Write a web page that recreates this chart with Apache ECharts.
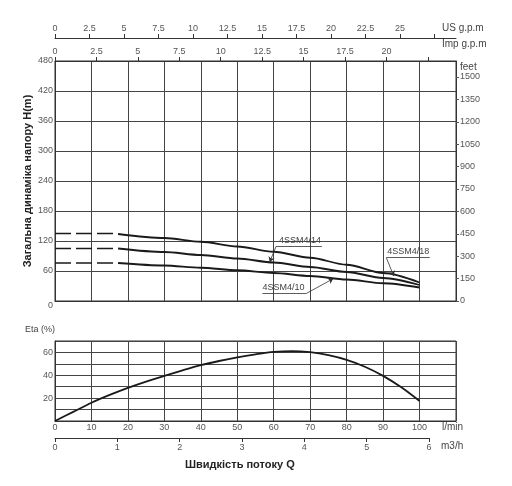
<!DOCTYPE html>
<html><head><meta charset="utf-8">
<script src="https://cdn.jsdelivr.net/npm/echarts@6/dist/echarts.min.js"></script>
<style>html,body{margin:0;padding:0;background:#fff}#c{width:512px;height:486px}</style>
</head><body><div id="c"></div>
<script>
// ---- data ----
const flowLmin = [17.3, 30, 40, 50, 60, 70, 80, 90, 100];
const head18 = [134, 126, 118.5, 109, 98.5, 86.5, 72.5, 56, 37];
const head14 = [105, 98, 92, 85, 77, 68, 58, 46, 32];
const head10 = [76, 71, 66.5, 61.5, 56, 50, 43, 35.5, 27];
const dashFlow = [0, 17.3];
const dash18 = [135, 135];
const dash14 = [105, 105];
const dash10 = [76, 76];
const etaFlow = [0, 5, 10, 15, 20, 25, 30, 35, 40, 45, 50, 55, 60, 65, 70, 75, 80, 85, 90, 95, 100];
const etaVals = [0, 8, 16, 22.8, 29, 34.5, 39.5, 44.3, 48.8, 52.5, 55.7, 58.3, 60.4, 61.2, 60.2, 57.6, 53.5, 47.5, 39.5, 29.5, 17.5];
const modelNames = ['4SSM4/18', '4SSM4/14', '4SSM4/10'];
// tick labels
const impTicks = [0, 2.5, 5, 7.5, 10, 12.5, 15, 17.5, 20, 22.5];
const impLabels = [0, 2.5, 5, 7.5, 10, 12.5, 15, 17.5, 20];
const usTicks = [0, 2.5, 5, 7.5, 10, 12.5, 15, 17.5, 20, 22.5, 25, 27.5];
const usLabels = [0, 2.5, 5, 7.5, 10, 12.5, 15, 17.5, 20, 22.5, 25];
const feetTicks = [0, 150, 300, 450, 600, 750, 900, 1050, 1200, 1350, 1500];
const etaLabels = [20, 40, 60];
const lminLabels = [0, 10, 20, 30, 40, 50, 60, 70, 80, 90, 100];

// ---- annotation layout (data coordinates) ----
const annot = [
  {tip: [92.9, 50], elbow: [90.9, 86.6], end: [102.8, 86.6], text: [96.9, 86.6]},
  {tip: [58.9, 78], elbow: [60.6, 108.6], end: [73.2, 108.6], text: [67.2, 108.6]},
  {tip: [76.3, 44.5], elbow: [69, 15.4], end: [56.9, 15.4], text: [62.7, 15.4]}
];

const FONT = 'Liberation Sans';
const lab = {color: '#555', fontSize: 9, fontFamily: FONT};
const unit = {color: '#444', fontSize: 10, fontFamily: FONT};
const gridLine = {lineStyle: {color: '#444', width: 1}};
const axLine = {onZero: false, lineStyle: {color: '#333', width: 1}};
const pairs = (xs, ys) => xs.map((x, i) => [x, ys[i]]);
const curveStyle = {color: '#1a1a1a', width: 1.8};
const dashStyle = {color: '#1a1a1a', width: 1.6, type: [16, 5]};
const plain = v => String(v);

const markLineData = [];
annot.forEach(a => {
  markLineData.push([{coord: a.tip, symbol: 'arrow', symbolSize: 5}, {coord: a.elbow, symbol: 'none'}]);
  markLineData.push([{coord: a.elbow, symbol: 'none'}, {coord: a.end, symbol: 'none'}]);
});
const markPointData = annot.map((a, i) => ({coord: a.text, name: modelNames[i]}));

const chart = echarts.init(document.getElementById('c'), null, {renderer: 'canvas'});
const gridBase = {outerBoundsMode: 'none', containLabel: false};
const option = {
  animation: false,
  backgroundColor: '#fff',
  textStyle: {fontFamily: FONT},
  grid: [
    Object.assign({left: 55, top: 61, width: 401, height: 240, show: true, borderColor: '#333', borderWidth: 1}, gridBase),
    Object.assign({left: 55, top: 341, width: 401, height: 80, show: true, borderColor: '#333', borderWidth: 1}, gridBase),
    Object.assign({left: 55, top: 437, width: 374, height: 1, show: false}, gridBase)
  ],
  xAxis: [
    {gridIndex: 0, type: 'value', min: 0, max: 110, interval: 10, position: 'bottom',
      axisLine: axLine, axisTick: {show: false}, axisLabel: {show: false}, splitLine: gridLine},
    {gridIndex: 0, type: 'value', min: 0, max: 110 * 0.219969, position: 'top',
      axisLine: axLine, axisTick: {show: true, length: 4, customValues: impTicks, lineStyle: {color: '#333'}},
      axisLabel: Object.assign({customValues: impLabels, margin: 5, formatter: plain}, lab), splitLine: {show: false},
      name: 'Imp g.p.m', nameLocation: 'end', nameGap: -14, nameMoveOverlap: false,
      nameTextStyle: Object.assign({verticalAlign: 'bottom', lineHeight: 34}, unit)},
    {gridIndex: 0, type: 'value', min: 0, max: 110 * 0.264172, position: 'top', offset: 23,
      axisLine: axLine, axisTick: {show: true, length: 4, customValues: usTicks, lineStyle: {color: '#333'}},
      axisLabel: Object.assign({customValues: usLabels, margin: 5, formatter: plain}, lab), splitLine: {show: false},
      name: 'US g.p.m', nameLocation: 'end', nameGap: -14, nameMoveOverlap: false,
      nameTextStyle: Object.assign({verticalAlign: 'bottom', lineHeight: 20}, unit)},
    {gridIndex: 1, type: 'value', min: 0, max: 110, interval: 10, position: 'bottom',
      axisLine: axLine, axisTick: {show: false},
      axisLabel: Object.assign({customValues: lminLabels, margin: 2, formatter: plain}, lab), splitLine: gridLine,
      name: 'l/min', nameLocation: 'end', nameGap: -14, nameMoveOverlap: false,
      nameTextStyle: Object.assign({verticalAlign: 'top', lineHeight: 12}, unit)},
    {gridIndex: 2, type: 'value', min: 0, max: 6, interval: 1, position: 'bottom',
      axisLine: axLine, axisTick: {show: true, length: 4, lineStyle: {color: '#333'}},
      axisLabel: Object.assign({margin: 5, formatter: plain}, lab), splitLine: {show: false},
      name: 'm3/h', nameLocation: 'end', nameGap: 12, nameMoveOverlap: false,
      nameTextStyle: Object.assign({verticalAlign: 'top', lineHeight: 16}, unit)}
  ],
  yAxis: [
    {gridIndex: 0, type: 'value', min: 0, max: 480, interval: 60, position: 'left',
      axisLine: axLine, axisTick: {show: false},
      axisLabel: Object.assign({margin: 2,
        formatter: v => v === 0 ? '{z|0}' : String(v),
        rich: {z: {padding: [10, 0, 0, 0], color: '#555', fontSize: 9, fontFamily: FONT}}}, lab),
      splitLine: gridLine,
      name: 'Загальна динаміка напору H(m)', nameLocation: 'middle', nameGap: 22, nameMoveOverlap: false,
      nameTextStyle: {fontSize: 11, fontWeight: 'bold', color: '#222', fontFamily: FONT}},
    {gridIndex: 0, type: 'value', min: 0, max: 1607, position: 'right',
      axisLine: axLine,
      axisTick: {show: true, length: 3, customValues: feetTicks, lineStyle: {color: '#555'}},
      axisLabel: Object.assign({customValues: feetTicks, margin: 4, formatter: plain}, lab), splitLine: {show: false},
      name: 'feet', nameLocation: 'end', nameGap: -1, nameMoveOverlap: false,
      nameTextStyle: Object.assign({align: 'left', verticalAlign: 'top', padding: [0, 0, 0, 4]}, unit)},
    {gridIndex: 1, type: 'value', min: 0, max: 70, interval: 10, position: 'left',
      axisLine: axLine, axisTick: {show: false},
      axisLabel: Object.assign({customValues: etaLabels, margin: 2, formatter: plain}, lab), splitLine: gridLine,
      name: 'Eta (%)', nameLocation: 'end', nameGap: 7, nameMoveOverlap: false,
      nameTextStyle: {align: 'right', color: '#444', fontSize: 9, fontFamily: FONT}},
    {gridIndex: 2, type: 'value', min: 0, max: 1, show: false}
  ],
  graphic: [
    {type: 'text', left: 185, top: 459, style: {text: 'Швидкість потоку Q', font: 'bold 11px "Liberation Sans"', fill: '#222'}}
  ],
  series: [
    {type: 'line', name: modelNames[0] + ' dash', xAxisIndex: 0, yAxisIndex: 0, data: pairs(dashFlow, dash18),
      showSymbol: false, lineStyle: dashStyle},
    {type: 'line', name: modelNames[1] + ' dash', xAxisIndex: 0, yAxisIndex: 0, data: pairs(dashFlow, dash14),
      showSymbol: false, lineStyle: dashStyle},
    {type: 'line', name: modelNames[2] + ' dash', xAxisIndex: 0, yAxisIndex: 0, data: pairs(dashFlow, dash10),
      showSymbol: false, lineStyle: dashStyle},
    {type: 'line', name: modelNames[0], xAxisIndex: 0, yAxisIndex: 0, data: pairs(flowLmin, head18),
      showSymbol: false, smooth: 0.3, smoothMonotone: 'x', lineStyle: curveStyle,
      markLine: {silent: true, symbol: ['none', 'none'], label: {show: false},
        lineStyle: {color: '#333', width: 0.8, type: 'solid'}, data: markLineData},
      markPoint: {silent: true, symbol: 'circle', symbolSize: 1, itemStyle: {color: 'rgba(0,0,0,0)'},
        label: {show: true, position: 'top', distance: 1, formatter: '{b}', color: '#444', fontSize: 9, fontFamily: FONT},
        data: markPointData}},
    {type: 'line', name: modelNames[1], xAxisIndex: 0, yAxisIndex: 0, data: pairs(flowLmin, head14),
      showSymbol: false, smooth: 0.3, smoothMonotone: 'x', lineStyle: curveStyle},
    {type: 'line', name: modelNames[2], xAxisIndex: 0, yAxisIndex: 0, data: pairs(flowLmin, head10),
      showSymbol: false, smooth: 0.3, smoothMonotone: 'x', lineStyle: curveStyle},
    {type: 'line', name: 'Eta', xAxisIndex: 3, yAxisIndex: 2, data: pairs(etaFlow, etaVals),
      showSymbol: false, smooth: 0.3, lineStyle: curveStyle}
  ]
};
chart.setOption(option);
</script>
</body></html>
